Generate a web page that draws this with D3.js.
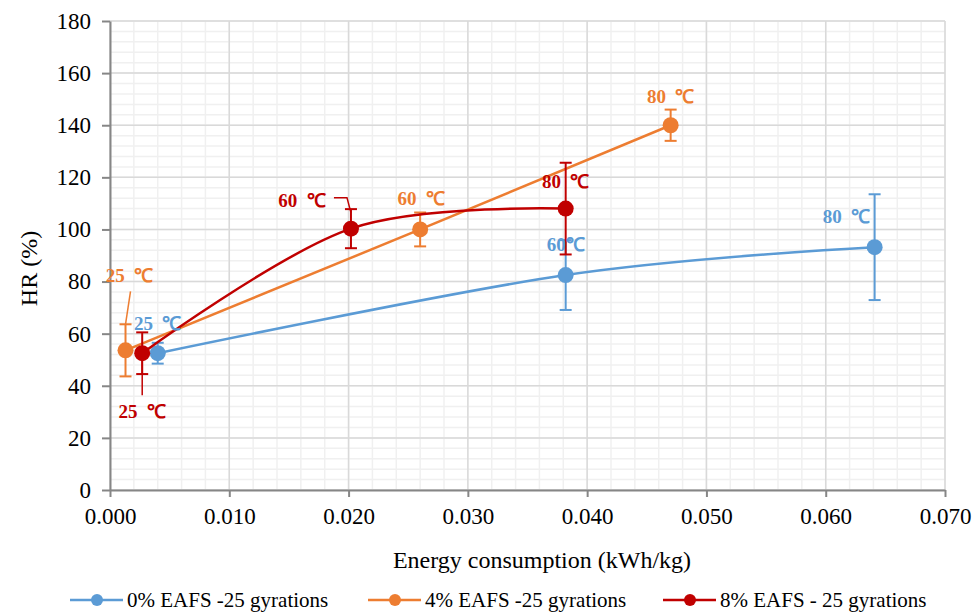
<!DOCTYPE html>
<html>
<head>
<meta charset="utf-8">
<script src="https://cdn.jsdelivr.net/npm/d3@7"></script>
<style>
  body { margin: 0; background: #fff; }
</style>
</head>
<body>
<div id="chart"></div>
<script>
const width = 976, height = 616;
const margin = ({top: 21, right: 31, bottom: 126, left: 110});
const serif = "Liberation Serif";

// energy consumption (kWh/kg), HR (%), error (+/-)
const seriesNames = ["0% EAFS -25 gyrations", "4% EAFS -25 gyrations", "8% EAFS - 25 gyrations"];
const colors = ["#5b9bd5", "#ed7d31", "#c00000"];
const energy0 = [0.0040, 0.0382, 0.0641];
const hr0 = [52.5, 82.5, 93.2];
const err0 = [4, 13.4, 20.3];
const energy4 = [0.0013, 0.0260, 0.0470];
const hr4 = [53.6, 100.0, 140.0];
const err4 = [10, 6.5, 6];
const energy8 = [0.0027, 0.0202, 0.0382];
const hr8 = [52.5, 100.3, 108.0];
const err8 = [8, 7.5, 17.6];
const temps = ["25  \u2103", "60  \u2103", "80  \u2103"];
const xTicks = [0, 0.01, 0.02, 0.03, 0.04, 0.05, 0.06, 0.07];
const yTicks = [0, 20, 40, 60, 80, 100, 120, 140, 160, 180];

const series = [
  {name: seriesNames[0], color: colors[0], smooth: true, pts: energy0.map((e, i) => ({x: e, y: hr0[i], err: err0[i]}))},
  {name: seriesNames[1], color: colors[1], smooth: false, pts: energy4.map((e, i) => ({x: e, y: hr4[i], err: err4[i]}))},
  {name: seriesNames[2], color: colors[2], smooth: true, pts: energy8.map((e, i) => ({x: e, y: hr8[i], err: err8[i]}))}
];

// label offsets from their point (px), and optional leader lines
const labels = [
  {s: 1, i: 0, dx: 4, dy: -68, lead: [[5, -59], [0, -26]]},
  {s: 0, i: 0, dx: 0, dy: -23},
  {s: 2, i: 0, dx: 0, dy: 65, lead: [[0, 0], [0, 42]]},
  {s: 2, i: 1, dx: -49, dy: -22, lead: [[-17, -31], [-4, -31], [0, -16]]},
  {s: 1, i: 1, dx: 1, dy: -24},
  {s: 1, i: 2, dx: 0, dy: -22},
  {s: 2, i: 2, dx: 0, dy: -21},
  {s: 0, i: 1, dx: 0, dy: -24, text: "60\u2103"},
  {s: 0, i: 2, dx: -28, dy: -24}
];

const x = d3.scaleLinear().domain([0, 0.07]).range([margin.left, width - margin.right]);
const y = d3.scaleLinear().domain([0, 180]).range([height - margin.bottom, margin.top]);

const svg = d3.select("#chart").append("svg").attr("width", width).attr("height", height);

// minor grid
svg.append("g").selectAll("line").data(d3.range(0, 0.0701, 0.002))
  .join("line")
  .attr("x1", d => x(d)).attr("x2", d => x(d))
  .attr("y1", y(0)).attr("y2", y(180))
  .attr("stroke", "#f0f0f0").attr("stroke-width", 1.5);
svg.append("g").selectAll("line").data(d3.range(0, 180.1, 4))
  .join("line")
  .attr("y1", d => y(d)).attr("y2", d => y(d))
  .attr("x1", x(0)).attr("x2", x(0.07))
  .attr("stroke", "#f0f0f0").attr("stroke-width", 1.5);
// major grid
svg.append("g").selectAll("line").data(xTicks)
  .join("line")
  .attr("x1", d => x(d)).attr("x2", d => x(d))
  .attr("y1", y(0)).attr("y2", y(180))
  .attr("stroke", "#d9d9d9").attr("stroke-width", 1.5);
svg.append("g").selectAll("line").data(yTicks)
  .join("line")
  .attr("y1", d => y(d)).attr("y2", d => y(d))
  .attr("x1", x(0)).attr("x2", x(0.07))
  .attr("stroke", "#d9d9d9").attr("stroke-width", 1.5);

const xAxis = svg.append("g")
  .attr("transform", `translate(0,${y(0)})`)
  .call(d3.axisBottom(x).tickValues(xTicks).tickFormat(d3.format(".3f")).tickSize(7).tickSizeOuter(0).tickPadding(11));
const yAxis = svg.append("g")
  .attr("transform", `translate(${x(0)},0)`)
  .call(d3.axisLeft(y).tickValues(yTicks).tickSize(8).tickSizeOuter(0).tickPadding(11));
[xAxis, yAxis].forEach(a => {
  a.selectAll("path, line").attr("stroke", "#868686").attr("stroke-width", 2);
  a.selectAll("text").attr("fill", "#000").style("font-size", "23px");
});

svg.append("text")
  .attr("x", 542).attr("y", 568)
  .attr("text-anchor", "middle").style("font-size", "24px")
  .text("Energy consumption (kWh/kg)");
svg.append("text")
  .attr("transform", `translate(37,${y(85)}) rotate(-90)`)
  .attr("text-anchor", "middle").style("font-size", "24px")
  .text("HR (%)");

const smoothLine = d3.line().x(d => x(d.x)).y(d => y(d.y)).curve(d3.curveCardinal.tension(0));
const straightLine = d3.line().x(d => x(d.x)).y(d => y(d.y));

series.forEach(s => {
  const g = svg.append("g");
  g.append("path").datum(s.pts)
    .attr("d", s.smooth ? smoothLine : straightLine)
    .attr("fill", "none").attr("stroke", s.color).attr("stroke-width", 2.5);
  const eb = g.selectAll("g.err").data(s.pts).join("g").attr("class", "err")
    .attr("stroke", s.color).attr("stroke-width", 2);
  eb.append("line")
    .attr("x1", d => x(d.x)).attr("x2", d => x(d.x))
    .attr("y1", d => y(d.y - d.err)).attr("y2", d => y(d.y + d.err));
  eb.append("line")
    .attr("x1", d => x(d.x) - 6).attr("x2", d => x(d.x) + 6)
    .attr("y1", d => y(d.y - d.err)).attr("y2", d => y(d.y - d.err));
  eb.append("line")
    .attr("x1", d => x(d.x) - 6).attr("x2", d => x(d.x) + 6)
    .attr("y1", d => y(d.y + d.err)).attr("y2", d => y(d.y + d.err));
  g.selectAll("circle").data(s.pts).join("circle")
    .attr("cx", d => x(d.x)).attr("cy", d => y(d.y)).attr("r", 8)
    .attr("fill", s.color);
});

labels.forEach(l => {
  const s = series[l.s], p = s.pts[l.i];
  const px = x(p.x), py = y(p.y);
  if (l.lead) {
    svg.append("path")
      .attr("d", d3.line()(l.lead.map(o => [px + o[0], py + o[1]])))
      .attr("fill", "none").attr("stroke", s.color).attr("stroke-width", 1.5);
  }
  svg.append("text")
    .attr("x", px + l.dx).attr("y", py + l.dy)
    .attr("text-anchor", "middle").attr("fill", s.color)
    .style("font-size", "19px").style("font-weight", "bold")
    .style("white-space", "pre")
    .text(l.text || temps[l.i]);
});

// legend
const legX = [70, 368, 663];
const leg = svg.append("g").selectAll("g").data(series).join("g")
  .attr("transform", (d, i) => `translate(${legX[i]},600)`);
leg.append("line").attr("x1", 0).attr("x2", 53).attr("stroke", d => d.color).attr("stroke-width", 2.5);
leg.append("circle").attr("cx", 27).attr("r", 6).attr("fill", d => d.color);
leg.append("text").attr("x", 57).attr("y", 7).style("font-size", "21px").text(d => d.name);

svg.selectAll("text").style("font-family", serif);
</script>
</body>
</html>
